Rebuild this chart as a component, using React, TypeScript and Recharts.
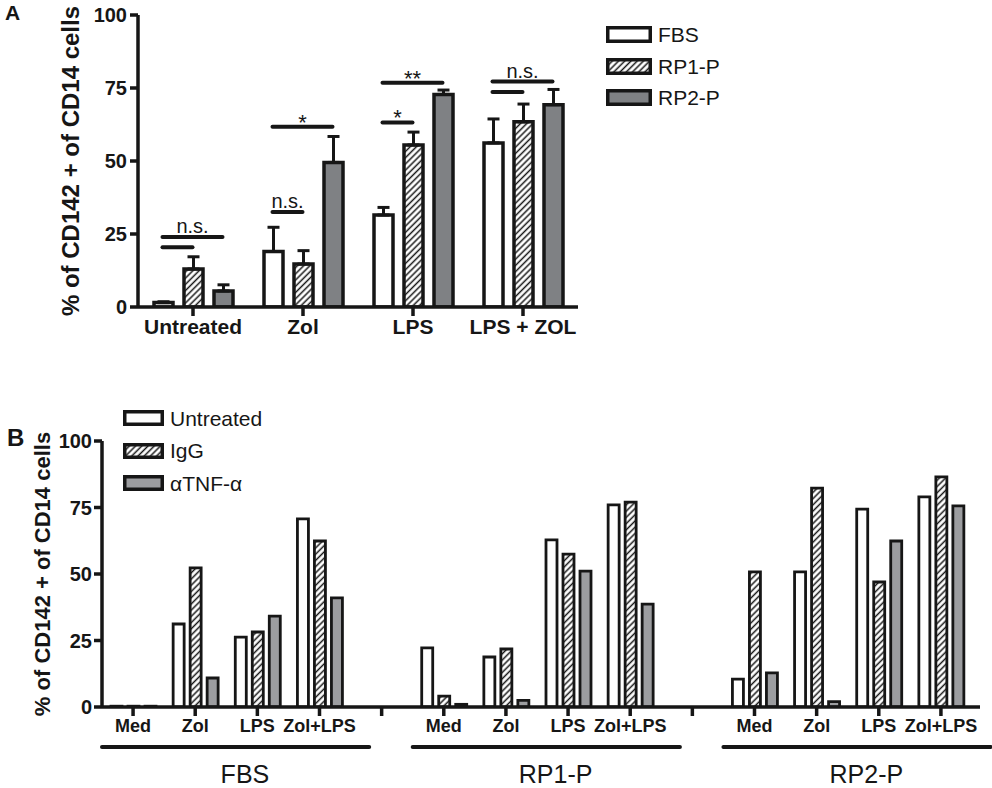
import React from "react";
import {
  BarChart,
  Bar,
  XAxis,
  YAxis,
  ErrorBar,
  ReferenceLine,
  ReferenceDot,
  Legend,
} from "recharts";

const FONT = '"Liberation Sans", Arial, Helvetica, sans-serif';
const INK = "#161616";

// ---- panel A data ----
const treatmentsA = ["Untreated", "Zol", "LPS", "LPS + ZOL"];
const seriesA = ["FBS", "RP1-P", "RP2-P"];
const fbsA = [1.5, 19, 31.5, 56.2];
const fbsErrA = [0.3, 8.3, 2.6, 8.2];
const rp1A = [13, 14.7, 55.5, 63.4];
const rp1ErrA = [4.2, 4.6, 4.4, 6.1];
const rp2A = [5.5, 49.5, 72.8, 69.3];
const rp2ErrA = [2.1, 8.9, 1.5, 5.2];

// significance brackets (category, from series, to series, height, text)
const bracketCat = [0, 0, 1, 1, 2, 2, 3, 3];
const bracketFrom = [0, 0, 0, 0, 0, 0, 0, 0];
const bracketTo = [1, 2, 1, 2, 1, 2, 1, 2];
const bracketY = [20.5, 24, 32.5, 61.7, 63.2, 76.8, 73.6, 77.2];
const bracketText = ["", "n.s.", "n.s.", "*", "*", "**", "", "n.s."];

// ---- panel B data ----
const groupsB = ["FBS", "RP1-P", "RP2-P"];
const conditionsB = ["Med", "Zol", "LPS", "Zol+LPS"];
const seriesB = ["Untreated", "IgG", "\u03b1TNF-\u03b1"];
const untreatedB = [0.3, 31.2, 26.3, 70.7, 22.2, 18.8, 62.8, 76, 10.5, 50.8, 74.4, 79];
const iggB = [0.3, 52.3, 28.2, 62.4, 4.1, 21.8, 57.5, 77, 50.8, 82.3, 47, 86.5];
const tnfB = [0.3, 10.9, 34.2, 41, 1, 2.5, 51.1, 38.7, 12.8, 2, 62.4, 75.6];

const yTicks = [0, 25, 50, 75, 100];

const dataA = treatmentsA.map((name, i) => ({
  idx: i,
  name,
  fbs: fbsA[i],
  fbsErr: [0, fbsErrA[i]],
  rp1: rp1A[i],
  rp1Err: [0, rp1ErrA[i]],
  rp2: rp2A[i],
  rp2Err: [0, rp2ErrA[i]],
}));

const dataB: any[] = [];
groupsB.forEach((g, gi) => {
  conditionsB.forEach((c, ci) => {
    const i = gi * conditionsB.length + ci;
    dataB.push({ key: g + " " + c, label: c, untreated: untreatedB[i], igg: iggB[i], tnf: tnfB[i] });
  });
  if (gi < groupsB.length - 1) dataB.push({ key: "gap" + gi, label: "" });
});
dataB.forEach((d, i) => (d.idx = i));

// layout (the hidden numeric axis maps index i to the centre of category i)
const BAND_A = 110;
const BAR_A = 19;
const GAP_A = 11;
const OFF_A = Math.floor((BAND_A - (3 * BAR_A + 2 * GAP_A)) / 2);
const barCenterA = (cat: number, s: number) =>
  cat + (OFF_A + BAR_A / 2 + s * (BAR_A + GAP_A) - BAND_A / 2) / BAND_A;

const PAD_B = 8;
const BAND_B = (878 - PAD_B) / dataB.length;
const GROUP_LINE_Y = -15;
const GROUP_TEXT_Y = -25.2;

const fillsA = ["#ffffff", "url(#hatchA)", "#7f8184"];
const fillsB = ["#ffffff", "url(#hatchB)", "#9c9da0"];

function hatch(id: string) {
  return (
    <pattern id={id} patternUnits="userSpaceOnUse" width={4.4} height={4.4} patternTransform="rotate(45)">
      <rect width={4.4} height={4.4} fill="#fff" />
      <line x1={2.2} y1={0} x2={2.2} y2={4.4} stroke={INK} strokeWidth={1.5} />
    </pattern>
  );
}

function yTitle(cx: number, size: number, fallbackCy: number) {
  return (props: any) => {
    const vb = props && props.viewBox;
    const cy = vb && vb.height ? vb.y + vb.height / 2 : fallbackCy;
    return (
      <text
        x={cx}
        y={cy}
        transform={`rotate(-90 ${cx} ${cy})`}
        textAnchor="middle"
        dominantBaseline="central"
        fill={INK}
        fontSize={size}
        fontWeight={700}
        fontFamily={FONT}
      >
        % of CD142 + of CD14 cells
      </text>
    );
  };
}

function SwatchLegend({ names, fills, rowH, boxW, boxH, pid }: any) {
  return (
    <div style={{ fontFamily: FONT, color: INK, fontSize: 21 }}>
      <svg width={0} height={0} style={{ position: "absolute" }}>
        <defs>{hatch(pid)}</defs>
      </svg>
      {names.map((n: string, i: number) => (
        <div key={n} style={{ height: rowH, display: "flex", alignItems: "center" }}>
          <svg width={boxW} height={boxH} style={{ display: "block" }}>
            <rect
              x={1.75}
              y={1.75}
              width={boxW - 3.5}
              height={boxH - 3.5}
              fill={fills[i].replace("hatchA", pid).replace("hatchB", pid)}
              stroke={INK}
              strokeWidth={3.5}
            />
          </svg>
          <span style={{ marginLeft: 6, lineHeight: 1, whiteSpace: "nowrap" }}>{n}</span>
        </div>
      ))}
    </div>
  );
}

const axisStyle = { stroke: INK, strokeWidth: 3.5 };

function PanelA() {
  const keys = ["fbs", "rp1", "rp2"];
  return (
    <BarChart
      width={992}
      height={360}
      data={dataA}
      margin={{ top: 15, right: 414, bottom: 13, left: 0 }}
      barSize={BAR_A}
      barGap={GAP_A}
      style={{ fontFamily: FONT }}
    >
      <defs>{hatch("hatchA")}</defs>
      <XAxis
        xAxisId="c"
        dataKey="name"
        height={40}
        interval={0}
        tickSize={9}
        tickMargin={3}
        axisLine={axisStyle}
        tickLine={axisStyle}
        tick={{ fill: INK, fontSize: 21, fontWeight: 700 }}
      />
      <XAxis
        xAxisId="n"
        dataKey="idx"
        type="number"
        domain={["dataMin", "dataMax"]}
        padding={{ left: BAND_A / 2, right: BAND_A / 2 }}
        allowDataOverflow
        hide
      />
      <YAxis
        domain={[0, 100]}
        ticks={yTicks}
        allowDataOverflow
        interval={0}
        width={138}
        tickSize={8}
        tickMargin={3}
        axisLine={axisStyle}
        tickLine={axisStyle}
        tick={{ fill: INK, fontSize: 20, fontWeight: 700 }}
        label={yTitle(70, 24, 161)}
      />
      {keys.map((k, s) => (
        <Bar
          key={k}
          xAxisId="c"
          dataKey={k}
          name={seriesA[s]}
          fill={fillsA[s]}
          stroke={INK}
          strokeWidth={3.5}
          isAnimationActive={false}
        >
          <ErrorBar dataKey={k + "Err"} direction="y" width={6} stroke={INK} strokeWidth={3} />
        </Bar>
      ))}
      {bracketCat.map((c, i) => (
        <ReferenceLine
          key={"br" + i}
          xAxisId="n"
          ifOverflow="visible"
          segment={[
            { x: barCenterA(c, bracketFrom[i]), y: bracketY[i] },
            { x: barCenterA(c, bracketTo[i]), y: bracketY[i] },
          ]}
          stroke={INK}
          strokeWidth={4}
          strokeLinecap="round"
          label={
            bracketText[i]
              ? {
                  value: bracketText[i],
                  position: "top",
                  offset: bracketText[i].startsWith("*") ? -3 : 4,
                  fill: INK,
                  fontSize: bracketText[i].startsWith("*") ? 22 : 20,
                }
              : undefined
          }
        />
      ))}
      <Legend
        layout="vertical"
        align="center"
        verticalAlign="middle"
        wrapperStyle={{ top: 19, left: 606, width: 160, height: 100 }}
        content={() => (
          <SwatchLegend names={seriesA} fills={fillsA} rowH={31.5} boxW={46} boxH={17} pid="hatchLegA" />
        )}
      />
    </BarChart>
  );
}

function PanelB() {
  const keys = ["untreated", "igg", "tnf"];
  const step = conditionsB.length + 1;
  return (
    <BarChart
      width={992}
      height={388}
      data={dataB}
      margin={{ top: 41, right: 12, bottom: 46, left: 0 }}
      barSize={11}
      barGap={6}
      style={{ fontFamily: FONT }}
    >
      <defs>{hatch("hatchB")}</defs>
      <XAxis
        xAxisId="c"
        dataKey="key"
        height={35}
        interval={0}
        padding={{ left: 0, right: PAD_B }}
        tickSize={9}
        tickMargin={3}
        axisLine={axisStyle}
        tickLine={axisStyle}
        tickFormatter={(v: any, i: number) => (dataB[i] ? dataB[i].label : "")}
        tick={{ fill: INK, fontSize: 18, fontWeight: 700 }}
      />
      <XAxis
        xAxisId="n"
        dataKey="idx"
        type="number"
        domain={["dataMin", "dataMax"]}
        padding={{ left: BAND_B / 2, right: PAD_B + BAND_B / 2 }}
        allowDataOverflow
        hide
      />
      <YAxis
        domain={[0, 100]}
        ticks={yTicks}
        allowDataOverflow
        interval={0}
        width={102}
        tickSize={8}
        tickMargin={2}
        axisLine={axisStyle}
        tickLine={axisStyle}
        tick={{ fill: INK, fontSize: 20, fontWeight: 700 }}
        label={yTitle(42, 22, 174)}
      />
      {keys.map((k, s) => (
        <Bar
          key={k}
          xAxisId="c"
          dataKey={k}
          name={seriesB[s]}
          fill={fillsB[s]}
          stroke={INK}
          strokeWidth={2.8}
          isAnimationActive={false}
        />
      ))}
      {groupsB.map((g, gi) => (
        <ReferenceLine
          key={"gl" + g}
          xAxisId="n"
          ifOverflow="visible"
          segment={[
            { x: gi * step - 0.5, y: GROUP_LINE_Y },
            { x: gi * step + conditionsB.length - 0.2, y: GROUP_LINE_Y },
          ]}
          stroke={INK}
          strokeWidth={4}
          strokeLinecap="round"
        />
      ))}
      {groupsB.map((g, gi) => (
        <ReferenceDot
          key={"gt" + g}
          xAxisId="n"
          ifOverflow="visible"
          x={gi * step + (conditionsB.length - 1) / 2 + 0.3}
          y={GROUP_TEXT_Y}
          r={0}
          fill="none"
          stroke="none"
          label={{ value: g, position: "center", fill: INK, fontSize: 25 }}
        />
      ))}
      <Legend
        layout="vertical"
        align="center"
        verticalAlign="middle"
        wrapperStyle={{ top: 2, left: 123, width: 200, height: 100 }}
        content={() => (
          <SwatchLegend names={seriesB} fills={fillsB} rowH={32.5} boxW={41} boxH={16} pid="hatchLegB" />
        )}
      />
    </BarChart>
  );
}

export default function App() {
  return (
    <div style={{ position: "absolute", left: 0, top: 0, width: 992, height: 788, background: "#fff", fontFamily: FONT }}>
      <div style={{ position: "absolute", left: 5, top: 2, fontSize: 21, fontWeight: 700, lineHeight: 1, color: INK }}>A</div>
      <div style={{ position: "absolute", left: 7, top: 426, fontSize: 24, fontWeight: 700, lineHeight: 1, color: INK }}>B</div>
      <div style={{ position: "absolute", left: 0, top: 0 }}>
        <PanelA />
      </div>
      <div style={{ position: "absolute", left: 0, top: 400 }}>
        <PanelB />
      </div>
    </div>
  );
}
